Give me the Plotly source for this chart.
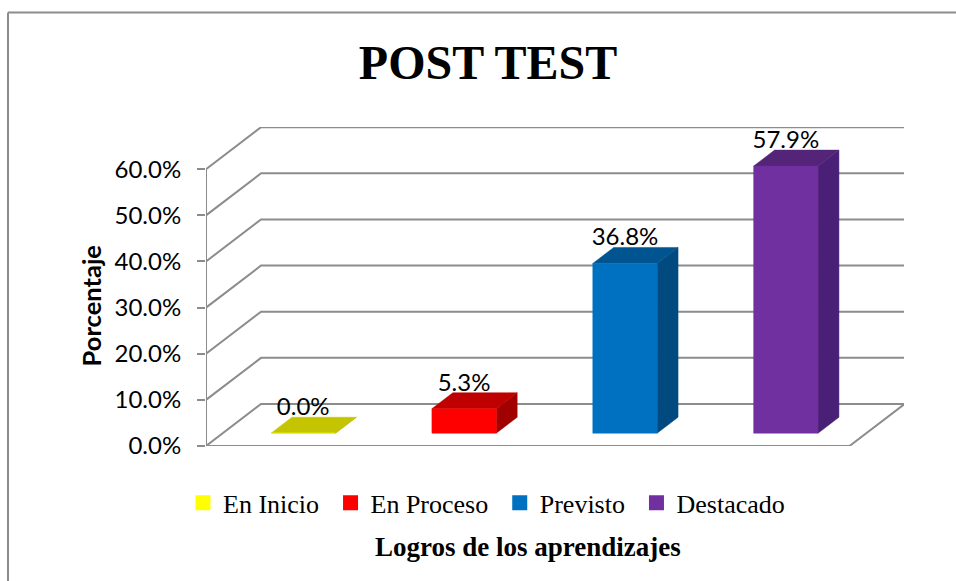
import plotly.graph_objects as go

categories = ["En Inicio", "En Proceso", "Previsto", "Destacado"]
values = [0.0, 5.3, 36.8, 57.9]
labels = ["0.0%", "5.3%", "36.8%", "57.9%"]
front_colors = ["#ffff00", "#ff0000", "#0070c0", "#7030a0"]
top_colors = ["#c4c400", "#bf0000", "#00548f", "#542478"]
side_colors = ["#a0a000", "#a00000", "#004a80", "#4a2076"]
tick_values = [0, 10, 20, 30, 40, 50, 60]
tick_labels = ["0.0%", "10.0%", "20.0%", "30.0%", "40.0%", "50.0%", "60.0%"]

GRID = "#8c8c8c"
SANS = "Lato"
SERIF = "Liberation Serif"
W, H = 956, 581
L, R, T, B = 206, 904, 126.6, 445.6
Y_MAX = 69.15
X_MAX = (R - L) / ((849.5 - L) / 4)
DX, DY = 0.342, 9.11   # oblique shift of a full unit of depth
BAR_FRONT, BAR_DEPTH = 0.305, 0.38
HALF = 0.2
LABEL_LIFT = 5.2


def proj(x, y, d):
    return x + d * DX, y + d * DY


def line(points, width=2):
    xs, ys = zip(*points)
    return go.Scatter(x=xs, y=ys, mode="lines", line=dict(color=GRID, width=width),
                      showlegend=False, hoverinfo="skip", cliponaxis=False)


def face(points, color):
    xs, ys = zip(*points)
    return go.Scatter(x=list(xs) + [xs[0]], y=list(ys) + [ys[0]], mode="lines", fill="toself",
                      fillcolor=color, line=dict(color=color, width=0.5),
                      showlegend=False, hoverinfo="skip", cliponaxis=False)


fig = go.Figure()

# walls and floor
for v in tick_values:
    fig.add_trace(line([proj(0, v, 0), proj(0, v, 1), proj(4, v, 1)]))
fig.add_trace(line([proj(0, 0, 0), proj(0, max(tick_values), 0)]))
fig.add_trace(line([proj(0, 0, 0), proj(4, 0, 0), proj(4, 0, 1)]))

# bars
for i, v in enumerate(values):
    c = i + 0.5
    d0, d1 = BAR_FRONT, BAR_FRONT + BAR_DEPTH
    a, b = c - HALF, c + HALF
    fig.add_trace(face([proj(b, 0, d0), proj(b, 0, d1), proj(b, v, d1), proj(b, v, d0)], side_colors[i]))
    fig.add_trace(face([proj(a, v, d0), proj(b, v, d0), proj(b, v, d1), proj(a, v, d1)], top_colors[i]))
    fig.add_trace(face([proj(a, 0, d0), proj(b, 0, d0), proj(b, v, d0), proj(a, v, d0)], front_colors[i]))
    lx, ly = proj(c, v, d0)
    fig.add_trace(go.Scatter(x=[lx], y=[ly + LABEL_LIFT], mode="text", text=[labels[i]],
                             textposition="middle center", textfont=dict(family=SANS, size=24, color="#000"),
                             showlegend=False, hoverinfo="skip", cliponaxis=False))

# legend entries
for name, color in zip(categories, front_colors):
    fig.add_trace(go.Scatter(x=[None], y=[None], mode="markers", name=name + "\u00a0",
                             marker=dict(symbol="square", size=15, color=color)))

fig.update_layout(
    width=W, height=H, autosize=False,
    margin=dict(l=L, r=W - R, t=T, b=H - B, pad=0),
    paper_bgcolor="white", plot_bgcolor="white",
    title=dict(text="<b>POST TEST</b>", font=dict(family=SERIF, size=48, color="#000"),
               x=488 / W, xref="container", xanchor="center", y=1 - 62 / H, yref="container", yanchor="middle"),
    xaxis=dict(range=[0, X_MAX], showgrid=False, zeroline=False, showline=False,
               showticklabels=False, ticks="", fixedrange=True),
    yaxis=dict(range=[0, Y_MAX], showgrid=False, zeroline=False, showline=False,
               tickvals=tick_values, ticktext=tick_labels, ticks="outside", ticklen=8, tickwidth=2,
               tickcolor=GRID, ticklabelstandoff=11, tickfont=dict(family=SANS, size=24, color="#000"),
               fixedrange=True),
    legend=dict(orientation="h", x=(183 - L) / (R - L), xanchor="left", y=(B - 479) / (B - T), yanchor="top",
                font=dict(family=SERIF, size=26, color="#000"), itemsizing="trace", itemwidth=30,
                bgcolor="rgba(0,0,0,0)", traceorder="normal"),
    annotations=[
        dict(text="<b>Logros de los aprendizajes</b>", xref="paper", yref="paper",
             x=(528 - L) / (R - L), y=(B - 547) / (B - T), xanchor="center", yanchor="middle", showarrow=False,
             font=dict(family=SERIF, size=27, color="#000")),
        dict(text="<b>Porcentaje</b>", xref="paper", yref="paper", textangle=-90,
             x=(91 - L) / (R - L), y=(B - 306) / (B - T), xanchor="center", yanchor="middle", showarrow=False,
             font=dict(family=SANS, size=25.5, color="#000")),
    ],
    shapes=[
        dict(type="line", xref="paper", yref="paper", line=dict(color=GRID, width=2),
             x0=(8 - L) / (R - L), x1=(W - L) / (R - L), y0=(B - 12) / (B - T), y1=(B - 12) / (B - T)),
        dict(type="line", xref="paper", yref="paper", line=dict(color=GRID, width=2),
             x0=(8 - L) / (R - L), x1=(8 - L) / (R - L), y0=(B - 12) / (B - T), y1=(B - H) / (B - T)),
    ],
)

fig.write_html("out.html", config={"displayModeBar": False},
               post_script="document.body.style.margin='0';")
